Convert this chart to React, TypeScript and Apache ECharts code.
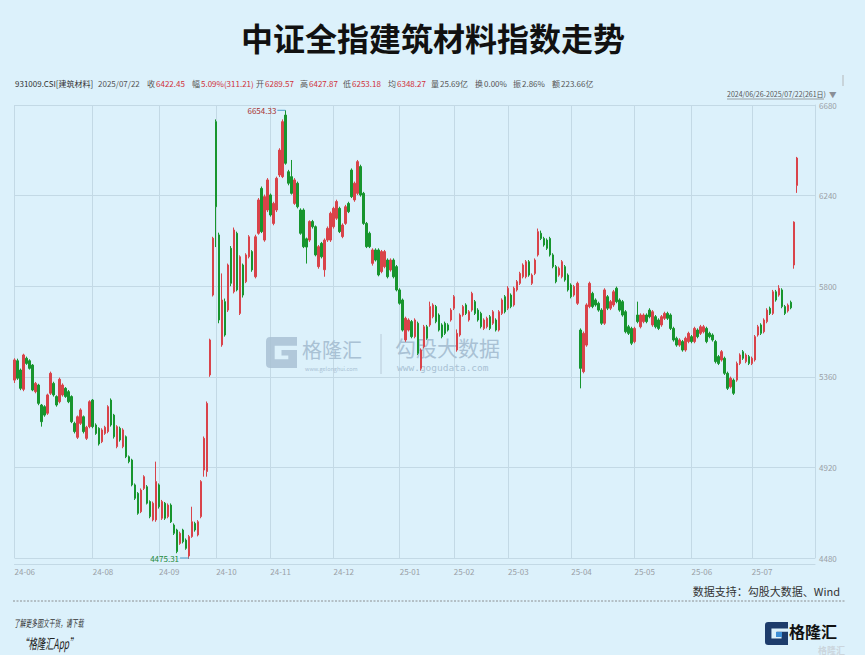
import React, { useEffect, useRef } from 'react';
import * as echarts from 'echarts';

// ---------- data ----------
const months = ['2024-06', '2024-07', '2024-08', '2024-09', '2024-10', '2024-11', '2024-12', '2025-01', '2025-02', '2025-03', '2025-04', '2025-05', '2025-06', '2025-07'];
const monthDays = [
  [26, 27, 28],
  [1, 2, 3, 4, 5, 8, 9, 10, 11, 12, 15, 16, 17, 18, 19, 22, 23, 24, 25, 26, 29, 30, 31],
  [1, 2, 5, 6, 7, 8, 9, 12, 13, 14, 15, 16, 19, 20, 21, 22, 23, 26, 27, 28, 29, 30],
  [2, 3, 4, 5, 6, 9, 10, 11, 12, 13, 18, 19, 20, 23, 24, 25, 26, 27, 30],
  [8, 9, 10, 11, 14, 15, 16, 17, 18, 21, 22, 23, 24, 25, 28, 29, 30, 31],
  [1, 4, 5, 6, 7, 8, 11, 12, 13, 14, 15, 18, 19, 20, 21, 22, 25, 26, 27, 28, 29],
  [2, 3, 4, 5, 6, 9, 10, 11, 12, 13, 16, 17, 18, 19, 20, 23, 24, 25, 26, 27, 30, 31],
  [2, 3, 6, 7, 8, 9, 10, 13, 14, 15, 16, 17, 20, 21, 22, 23, 24, 27],
  [5, 6, 7, 10, 11, 12, 13, 14, 17, 18, 19, 20, 21, 24, 25, 26, 27, 28],
  [3, 4, 5, 6, 7, 10, 11, 12, 13, 14, 17, 18, 19, 20, 21, 24, 25, 26, 27, 28, 31],
  [1, 2, 3, 7, 8, 9, 10, 11, 14, 15, 16, 17, 18, 21, 22, 23, 24, 25, 28, 29, 30],
  [6, 7, 8, 9, 12, 13, 14, 15, 16, 19, 20, 21, 22, 23, 26, 27, 28, 29, 30],
  [3, 4, 5, 6, 9, 10, 11, 12, 13, 16, 17, 18, 19, 20, 23, 24, 25, 26, 27, 30],
  [1, 2, 3, 4, 7, 8, 9, 10, 11, 14, 15, 16, 17, 18, 21, 22],
];

const opens = [
  5344, 5438, 5393, 5299, 5450, 5438, 5417, 5288, 5320, 5223,
  5215, 5183, 5280, 5328, 5264, 5239, 5272, 5304, 5288, 5264,
  5134, 5066, 5134, 5166, 5061, 5118, 5247, 5126, 5110, 5045,
  5085, 5094, 5247, 5174, 5021, 5110, 5021, 5069, 4972, 4956,
  4835, 4794, 4705, 4818, 4826, 4754, 4665, 4665, 4835, 4673,
  4746, 4681, 4737, 4640, 4616, 4551, 4616, 4567, 4490, 4584,
  4648, 4592, 4681, 4907, 4900, 5369, 5757, 6599, 6049, 5515,
  5725, 5684, 5984, 5773, 6057, 5668, 5903, 5822, 5943, 5968,
  5846, 6057, 6275, 6024, 6170, 6243, 6105, 6170, 6340, 6332,
  6631, 6356, 6332, 6202, 6300, 6170, 6170, 6030, 6024, 6114,
  6089, 5895, 6008, 5880, 6024, 6024, 6089, 6130, 6178, 6041,
  6105, 6202, 6364, 6219, 6251, 6381, 6251, 6105, 6057, 5911,
  5976, 5976, 5871, 5895, 5927, 5879, 5927, 5895, 5782, 5733,
  5539, 5587, 5628, 5555, 5620, 5401, 5506, 5603, 5612, 5652,
  5701, 5660, 5612, 5620, 5612, 5636, 5693, 5490, 5563, 5660,
  5709, 5636, 5684, 5725, 5684, 5668, 5595, 5603, 5652, 5620,
  5636, 5587, 5668, 5749, 5693, 5757, 5709, 5782, 5814, 5846,
  5846, 5919, 5814, 5862, 5952, 6057, 6032, 6024, 6032, 5952,
  5895, 5854, 5846, 5895, 5854, 5806, 5757, 5717, 5587, 5385,
  5514, 5701, 5765, 5733, 5717, 5684, 5620, 5749, 5693, 5709,
  5790, 5733, 5725, 5676, 5603, 5595, 5531, 5660, 5603, 5628,
  5660, 5684, 5612, 5652, 5636, 5612, 5644, 5668, 5660, 5595,
  5547, 5514, 5531, 5490, 5531, 5555, 5531, 5587, 5571, 5579,
  5595, 5571, 5563, 5531, 5458, 5442, 5450, 5377, 5312, 5344,
  5344, 5425, 5482, 5434, 5458, 5425, 5442, 5563, 5612, 5579,
  5628, 5693, 5668, 5773, 5757, 5782, 5701, 5680, 5722, 5903,
  6289.57,
];
const closes = [
  5442, 5353, 5304, 5466, 5425, 5401, 5296, 5328, 5231, 5142,
  5174, 5272, 5377, 5272, 5223, 5348, 5320, 5264, 5239, 5142,
  5094, 5166, 5199, 5094, 5115, 5239, 5118, 5085, 5034, 5102,
  5115, 5215, 5126, 5069, 5118, 5053, 5102, 4972, 4948, 4835,
  4770, 4697, 4810, 4875, 4746, 4681, 4746, 4851, 4729, 4754,
  4673, 4737, 4656, 4600, 4511, 4600, 4559, 4527, 4584, 4656,
  4616, 4656, 4851, 5061, 5231, 5539, 6033, 6186, 5636, 5733,
  5563, 5903, 5814, 6073, 5782, 5943, 5757, 5952, 6040, 5879,
  6040, 6219, 6065, 6235, 6316, 6146, 6202, 6324, 6461, 6599,
  6397, 6300, 6251, 6316, 6186, 6057, 5992, 5990, 6114, 6089,
  5952, 5992, 5943, 6024, 6081, 6154, 6178, 6211, 6065, 6097,
  6186, 6162, 6235, 6300, 6405, 6243, 6105, 5992, 5992, 5976,
  5927, 5855, 5968, 5968, 5846, 5927, 5846, 5782, 5717, 5587,
  5644, 5636, 5555, 5636, 5474, 5490, 5603, 5547, 5701, 5709,
  5628, 5587, 5555, 5571, 5587, 5684, 5749, 5571, 5660, 5701,
  5668, 5676, 5765, 5668, 5636, 5603, 5636, 5644, 5595, 5676,
  5587, 5676, 5733, 5676, 5790, 5701, 5790, 5822, 5862, 5903,
  5919, 5854, 5854, 5927, 6065, 6032, 6000, 5984, 5952, 5895,
  5822, 5887, 5919, 5830, 5782, 5749, 5798, 5814, 5401, 5571,
  5709, 5814, 5701, 5709, 5684, 5620, 5782, 5693, 5725, 5773,
  5725, 5684, 5660, 5579, 5571, 5523, 5595, 5628, 5660, 5660,
  5628, 5652, 5676, 5603, 5595, 5652, 5668, 5644, 5595, 5539,
  5514, 5539, 5490, 5547, 5571, 5531, 5595, 5555, 5603, 5603,
  5531, 5555, 5539, 5434, 5425, 5482, 5377, 5304, 5353, 5280,
  5425, 5466, 5450, 5466, 5425, 5450, 5555, 5603, 5571, 5636,
  5684, 5668, 5773, 5733, 5790, 5701, 5668, 5708, 5695, 6111.24,
  6422.45,
];
const lows = [
  5330, 5345, 5295, 5290, 5418, 5395, 5290, 5280, 5222, 5118,
  5166, 5175, 5272, 5264, 5215, 5231, 5264, 5258, 5232, 5135,
  5085, 5058, 5126, 5085, 5053, 5110, 5110, 5078, 5026, 5038,
  5078, 5086, 5118, 5060, 5013, 5045, 5013, 4965, 4940, 4828,
  4762, 4690, 4698, 4810, 4740, 4673, 4658, 4656, 4720, 4665,
  4665, 4673, 4650, 4592, 4503, 4544, 4551, 4520, 4475.31, 4578,
  4608, 4585, 4673, 4875, 4875, 5360, 5750, 5990, 5620, 5506,
  5555, 5675, 5800, 5765, 5775, 5660, 5745, 5815, 5935, 5870,
  5838, 6050, 6058, 6016, 6160, 6138, 6096, 6160, 6330, 6325,
  6390, 6290, 6245, 6195, 6178, 6050, 5985, 5910, 6015, 6080,
  5945, 5885, 5935, 5846, 6015, 6015, 6080, 6122, 6058, 6033,
  6098, 6155, 6228, 6210, 6243, 6235, 6098, 5985, 5985, 5900,
  5920, 5848, 5863, 5887, 5838, 5871, 5838, 5775, 5710, 5580,
  5530, 5580, 5547, 5547, 5466, 5390, 5498, 5540, 5603, 5644,
  5620, 5580, 5547, 5563, 5580, 5628, 5684, 5482, 5555, 5652,
  5660, 5628, 5676, 5660, 5628, 5595, 5587, 5595, 5587, 5612,
  5580, 5580, 5660, 5668, 5684, 5693, 5701, 5774, 5806, 5838,
  5838, 5846, 5806, 5854, 5944, 6024, 5992, 5976, 5944, 5887,
  5814, 5846, 5838, 5822, 5774, 5741, 5749, 5709, 5304, 5377,
  5506, 5693, 5693, 5701, 5676, 5612, 5612, 5684, 5684, 5700,
  5717, 5676, 5652, 5571, 5563, 5514, 5523, 5620, 5595, 5620,
  5620, 5644, 5603, 5595, 5587, 5603, 5636, 5636, 5587, 5531,
  5506, 5506, 5482, 5482, 5523, 5523, 5523, 5547, 5563, 5571,
  5523, 5547, 5531, 5425, 5417, 5434, 5369, 5296, 5304, 5272,
  5336, 5417, 5442, 5426, 5417, 5417, 5434, 5555, 5563, 5571,
  5620, 5660, 5660, 5725, 5749, 5693, 5660, 5672, 5688, 5885,
  6253.18,
];
const highs = [
  5450, 5448, 5400, 5472, 5458, 5445, 5422, 5335, 5326, 5228,
  5222, 5278, 5385, 5336, 5270, 5356, 5328, 5310, 5296, 5270,
  5142, 5172, 5207, 5172, 5122, 5246, 5252, 5134, 5115, 5110,
  5122, 5222, 5255, 5180, 5125, 5118, 5110, 5075, 4978, 4962,
  4842, 4800, 4818, 4882, 4834, 4760, 4754, 4948, 4842, 4762,
  4752, 4745, 4745, 4648, 4622, 4608, 4622, 4575, 4592, 4729,
  4656, 4664, 4858, 5070, 5240, 5545, 6040, 6610, 6060, 5862,
  5740, 5910, 5995, 6085, 6065, 5950, 5910, 5960, 6048, 5975,
  6050, 6228, 6284, 6245, 6325, 6250, 6210, 6332, 6470, 6610,
  6654.33, 6365, 6413, 6325, 6308, 6178, 6178, 6036, 6120, 6122,
  6095, 6000, 6015, 6032, 6090, 6162, 6186, 6220, 6186, 6105,
  6195, 6210, 6372, 6308, 6413, 6390, 6258, 6112, 6065, 5984,
  5984, 5984, 5976, 5976, 5935, 5935, 5935, 5903, 5790, 5740,
  5652, 5644, 5636, 5644, 5628, 5498, 5612, 5612, 5725, 5717,
  5709, 5668, 5620, 5628, 5620, 5693, 5757, 5590, 5668, 5709,
  5717, 5684, 5773, 5733, 5693, 5676, 5644, 5652, 5660, 5684,
  5644, 5684, 5741, 5757, 5800, 5765, 5798, 5830, 5870, 5911,
  5927, 5927, 5862, 5935, 6080, 6070, 6040, 6032, 6040, 5960,
  5903, 5895, 5927, 5903, 5862, 5814, 5806, 5822, 5595, 5580,
  5717, 5822, 5773, 5741, 5725, 5693, 5790, 5757, 5733, 5782,
  5798, 5741, 5733, 5684, 5612, 5603, 5603, 5725, 5668, 5668,
  5668, 5693, 5684, 5660, 5644, 5660, 5676, 5676, 5668, 5603,
  5555, 5547, 5539, 5555, 5579, 5563, 5603, 5595, 5612, 5612,
  5603, 5579, 5571, 5539, 5466, 5490, 5458, 5385, 5361, 5352,
  5434, 5474, 5490, 5474, 5466, 5458, 5563, 5612, 5620, 5644,
  5693, 5701, 5782, 5782, 5805, 5790, 5709, 5716, 5730, 6115,
  6427.87,
];

const yMin = 4480;
const yMax = 6680;
const yStep = 440;
const padCount = 6;

const indexCode = '931009.CSI[建筑材料]';
const avgPrice = '6348.27';
const volumeText = '25.69亿';
const turnoverText = '0.00%';
const amountText = '223.66亿';

// ---------- derived ----------
const dates: string[] = [];
months.forEach((m, k) => monthDays[k].forEach((d) => dates.push(`${m}-${String(d).padStart(2, '0')}`)));
const categories = [...dates, ...Array.from({ length: padCount }, (_, k) => `pad-${k}`)];

const labelSet = new Set<number>();
{
  let last = -100;
  let prevMonth = '';
  dates.forEach((d, i) => {
    const m = d.slice(0, 7);
    if (m !== prevMonth) {
      if (i - last >= 10) {
        labelSet.add(i);
        last = i;
      }
      prevMonth = m;
    }
  });
}

const ohlc = opens.map((o, i) => [o, closes[i], lows[i], highs[i]]);
let maxIdx = 0;
let minIdx = 0;
highs.forEach((h, i) => { if (h > highs[maxIdx]) maxIdx = i; });
lows.forEach((l, i) => { if (l < lows[minIdx]) minIdx = i; });

const n = opens.length;
const lastClose = closes[n - 1];
const prevClose = closes[n - 2];
const chg = lastClose - prevClose;
const lastDate = dates[n - 1].replace(/-/g, '/');
const firstDate = dates[0].replace(/-/g, '/');

// ---------- styles ----------
const BG = '#dcf1fb';
const GRID = '#c3d9e5';
const RED = '#d9434a';
const GREEN = '#17952e';
const VAL_RED = '#d0303a';
const FONT = "'Noto Sans CJK SC', 'Noto Sans', sans-serif";
const WM = '#a9c1d4';

const G_PATH = 'M0,14 Q0,0 14,0 L100,0 L100,28 L28,28 L28,72 L72,72 L72,60 L50,60 L50,42 L100,42 L100,100 L14,100 Q0,100 0,86 Z';
echarts.graphic.registerShape('glogo', echarts.graphic.extendPath(G_PATH, {}) as any);

function txt(text: string, x: number, y: number, o: any = {}) {
  const { align = 'left', size = 8, color = '#444', weight = 'normal', style = 'normal', family = FONT, scaleX, z, opacity } = o;
  const el: any = {
    type: 'text',
    x,
    y,
    style: {
      text,
      fill: color,
      fontSize: size,
      fontWeight: weight,
      fontStyle: style,
      fontFamily: family,
      align,
      textAlign: align,
      verticalAlign: 'middle',
      textVerticalAlign: 'middle',
      opacity: opacity ?? 1,
    },
  };
  if (scaleX) el.scaleX = scaleX;
  if (z !== undefined) el.z = z;
  return el;
}

const headerItems: [string, string, string][] = [
  ['收', lastClose.toFixed(2), VAL_RED],
  ['幅', `${((chg / prevClose) * 100).toFixed(2)}%(${chg.toFixed(2)})`, VAL_RED],
  ['开', opens[n - 1].toFixed(2), VAL_RED],
  ['高', highs[n - 1].toFixed(2), VAL_RED],
  ['低', lows[n - 1].toFixed(2), VAL_RED],
  ['均', avgPrice, VAL_RED],
  ['量', volumeText, '#555'],
  ['换', turnoverText, '#555'],
  ['振', `${(((highs[n - 1] - lows[n - 1]) / prevClose) * 100).toFixed(2)}%`, '#555'],
  ['额', amountText, '#555'],
];
const headerX = [147, 192, 256, 300, 343, 388, 431, 475, 513, 552];

const graphics: any[] = [
  txt('中证全指建筑材料指数走势', 433, 37, { align: 'center', size: 32, color: '#111', weight: 'bold' }),
  txt(indexCode, 15, 83, { color: '#333' }),
  txt(lastDate, 98, 83, { color: '#555' }),
  ...headerItems.flatMap(([lab, val, col], k) => [
    txt(lab, headerX[k], 83, { color: '#555' }),
    txt(val, headerX[k] + 9, 83, { color: col }),
  ]),
  txt(`${firstDate}-${lastDate}(${n}日)`, 727, 94, { size: 7, color: '#555' }),
  { type: 'line', shape: { x1: 727, y1: 99, x2: 824, y2: 99 }, style: { stroke: '#666', lineWidth: 0.6 } },
  txt('▼', 829, 94, { size: 7.5, color: '#8a8f96' }),
  { type: 'line', shape: { x1: 843, y1: 75, x2: 843, y2: 86 }, style: { stroke: '#aaa', lineWidth: 0.8 } },
  // watermark
  { type: 'glogo', x: 266, y: 337, scaleX: 0.31, scaleY: 0.31, style: { fill: WM, opacity: 0.85 }, z: 1 },
  txt('格隆汇', 302, 349, { size: 20, color: WM, z: 1 }),
  txt('www.gelonghui.com', 305, 369, { size: 5.5, color: WM, z: 1 }),
  { type: 'line', shape: { x1: 381, y1: 334, x2: 381, y2: 374 }, style: { stroke: '#b8cad8', lineWidth: 1 }, z: 1 },
  txt('勾股大数据', 395, 347, { size: 21, color: WM, z: 1 }),
  txt('www.gogudata.com', 397, 367, { size: 9.5, color: WM, family: "'DejaVu Sans Mono', monospace", z: 1 }),
  // footer
  txt('数据支持：勾股大数据、Wind', 840, 591, { align: 'right', size: 11, color: '#333' }),
  { type: 'line', shape: { x1: 13, y1: 601, x2: 845, y2: 601 }, style: { stroke: '#777', lineWidth: 0.8, lineDash: [2, 1.5] } },
  txt('了解更多图文干货，请下载', 14, 623, { size: 10, color: '#333', style: 'italic', scaleX: 0.58 }),
  txt('“格隆汇App”', 20, 643, { size: 14, color: '#222', style: 'italic', scaleX: 0.6 }),
  { type: 'glogo', x: 765, y: 622, scaleX: 0.23, scaleY: 0.23, style: { fill: '#1d3c6b' } },
  { type: 'rect', shape: { x: 776, y: 632, width: 6, height: 5 }, style: { fill: '#3d8fd6' } },
  txt('格隆汇', 818, 650, { size: 9, color: '#c4c9cf', weight: 'bold', opacity: 0.7 }),
  txt('格隆汇', 789, 631, { size: 16, color: '#111', weight: 'bold' }),
];

const option: any = {
  animation: false,
  backgroundColor: BG,
  textStyle: { fontFamily: FONT },
  grid: { left: 14.5, right: 50, top: 105, bottom: 97, outerBoundsMode: 'none' },
  xAxis: {
    type: 'category',
    data: categories,
    boundaryGap: false,
    offset: 6,
    axisLine: { show: true, lineStyle: { color: GRID, width: 1 } },
    axisTick: { show: false },
    axisLabel: {
      interval: (i: number) => labelSet.has(i),
      formatter: (v: string) => (v.startsWith('pad') ? '' : v.slice(2, 7)),
      align: 'left',
      color: '#9aa0a6',
      fontSize: 8,
      margin: 3,
    },
    splitLine: { show: true, interval: (i: number) => labelSet.has(i), lineStyle: { color: GRID, width: 1 } },
  },
  yAxis: {
    type: 'value',
    position: 'right',
    min: yMin,
    max: yMax,
    interval: yStep,
    axisLine: { show: true, lineStyle: { color: GRID } },
    axisTick: { show: false },
    axisLabel: { color: '#9aa0a6', fontSize: 8, margin: 4, formatter: (v: number) => String(v) },
    splitLine: { show: true, lineStyle: { color: GRID, width: 1 } },
  },
  series: [
    {
      type: 'candlestick',
      data: ohlc,
      barWidth: 2,
      clip: false,
      itemStyle: { color: RED, color0: GREEN, borderColor: RED, borderColor0: GREEN, borderWidth: 1 },
      markPoint: {
        silent: true,
        data: [
          {
            coord: [maxIdx, Math.min(highs[maxIdx], yMax)],
            symbol: 'rect',
            symbolSize: [8, 1],
            symbolOffset: [-4, 0],
            itemStyle: { color: '#4b9fcc' },
            label: { show: true, position: 'left', distance: 1, formatter: highs[maxIdx].toFixed(2), color: '#a8302f', fontSize: 8 },
          },
          {
            coord: [minIdx, Math.max(lows[minIdx], yMin)],
            symbol: 'rect',
            symbolSize: [9, 1],
            symbolOffset: [-4.5, 0],
            itemStyle: { color: '#4b9fcc' },
            label: { show: true, position: 'left', distance: 1, formatter: lows[minIdx].toFixed(2), color: '#1e8a3b', fontSize: 8 },
          },
        ],
      },
    },
  ],
  graphic: graphics,
};

export default function App() {
  const ref = useRef<HTMLDivElement>(null);
  useEffect(() => {
    const chart = echarts.init(ref.current!, null, { renderer: 'svg' });
    chart.setOption(option);
    return () => chart.dispose();
  }, []);
  return <div ref={ref} style={{ position: 'fixed', left: 0, top: 0, width: 865, height: 655 }} />;
}
